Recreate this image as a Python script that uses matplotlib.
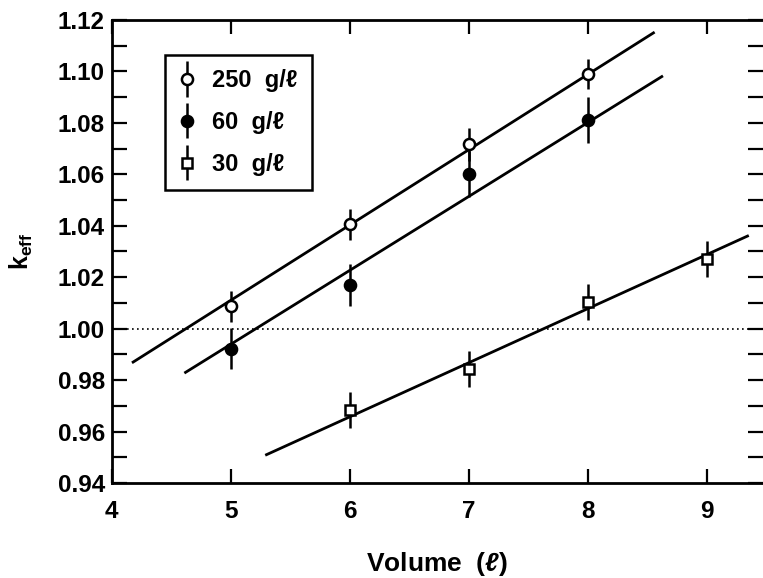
import matplotlib
matplotlib.use('Agg')
import matplotlib.pyplot as plt
from matplotlib.container import ErrorbarContainer
from matplotlib.legend_handler import HandlerErrorbar

plt.rcParams['font.family'] = ['Liberation Sans', 'DejaVu Sans']
plt.rcParams['font.weight'] = 'bold'
plt.rcParams['mathtext.fontset'] = 'custom'
plt.rcParams['mathtext.rm'] = 'Liberation Sans:bold'
plt.rcParams['mathtext.bf'] = 'Liberation Sans:bold'
plt.rcParams['mathtext.it'] = 'Liberation Sans:italic:bold'

# measured points
vol_250 = [5, 6, 7, 8]
k_250 = [1.0087, 1.0405, 1.0716, 1.0990]
err_250 = [0.006, 0.006, 0.0065, 0.006]

vol_60 = [5, 6, 7, 8]
k_60 = [0.9922, 1.0170, 1.0600, 1.0810]
err_60 = [0.008, 0.008, 0.009, 0.009]

vol_30 = [6, 7, 8, 9]
k_30 = [0.9685, 0.9845, 1.0105, 1.0270]
err_30 = [0.007, 0.007, 0.007, 0.007]

# fitted lines (end points)
fit_250_x = [4.18, 8.55]
fit_250_y = [0.987, 1.115]
fit_60_x = [4.62, 8.62]
fit_60_y = [0.983, 1.098]
fit_30_x = [5.30, 9.34]
fit_30_y = [0.951, 1.036]

fig = plt.figure(figsize=(7.63, 5.78), dpi=100)
ax = fig.add_axes([0.1464, 0.1644, 0.8536, 0.801])

ax.plot(fit_250_x, fit_250_y, color='black', lw=2)
ax.plot(fit_60_x, fit_60_y, color='black', lw=2)
ax.plot(fit_30_x, fit_30_y, color='black', lw=2)
ax.axhline(1.0, color='black', lw=1.2, ls=(0, (1, 2)))

ax.errorbar(vol_250, k_250, yerr=err_250, fmt='o', ms=8, mfc='white', mec='black',
            mew=1.8, ecolor='black', elinewidth=1.8, capsize=0, label='250  g/ℓ', zorder=3)
ax.errorbar(vol_60, k_60, yerr=err_60, fmt='o', ms=8, mfc='black', mec='black',
            mew=1.8, ecolor='black', elinewidth=1.8, capsize=0, label='60  g/ℓ', zorder=3)
ax.errorbar(vol_30, k_30, yerr=err_30, fmt='s', ms=7, mfc='white', mec='black',
            mew=1.8, ecolor='black', elinewidth=1.8, capsize=0, label='30  g/ℓ', zorder=3)

ax.set_xlim(4, 9.47)
ax.set_ylim(0.94, 1.12)
ax.set_xticks([4, 5, 6, 7, 8, 9])
ax.set_yticks([0.94 + 0.02 * i for i in range(10)])
ax.set_yticks([0.95 + 0.02 * i for i in range(9)], minor=True)
ax.yaxis.set_major_formatter(matplotlib.ticker.FormatStrFormatter('%.2f'))

ax.tick_params(axis='both', which='both', direction='in', labelsize=17.5, width=1.6)
ax.tick_params(axis='x', length=10, top=True, pad=12)
ax.tick_params(axis='y', which='both', length=11, right=True, pad=5)
for lbl in ax.get_xticklabels() + ax.get_yticklabels():
    lbl.set_fontweight('bold')

ax.spines['right'].set_visible(False)
for s in ['left', 'bottom', 'top']:
    ax.spines[s].set_linewidth(2)

ax.set_xlabel('Volume  ($\\mathit{\\ell}$)', fontsize=19, fontweight='bold', labelpad=20)
ax.set_ylabel('k$_{\\mathrm{eff}}$', fontsize=18, fontweight='bold', labelpad=16)

leg = ax.legend(loc='upper left', bbox_to_anchor=(0.0818, 0.9244), borderaxespad=0,
                fancybox=False, edgecolor='black', fontsize=17, handlelength=0.7,
                handletextpad=0.7, borderpad=0.6, labelspacing=0.8, framealpha=1,
                handler_map={ErrorbarContainer: HandlerErrorbar(yerr_size=0.75)})
leg.get_frame().set_linewidth(1.8)
for t in leg.get_texts():
    t.set_fontweight('bold')

fig.savefig('out.png', dpi=100)
